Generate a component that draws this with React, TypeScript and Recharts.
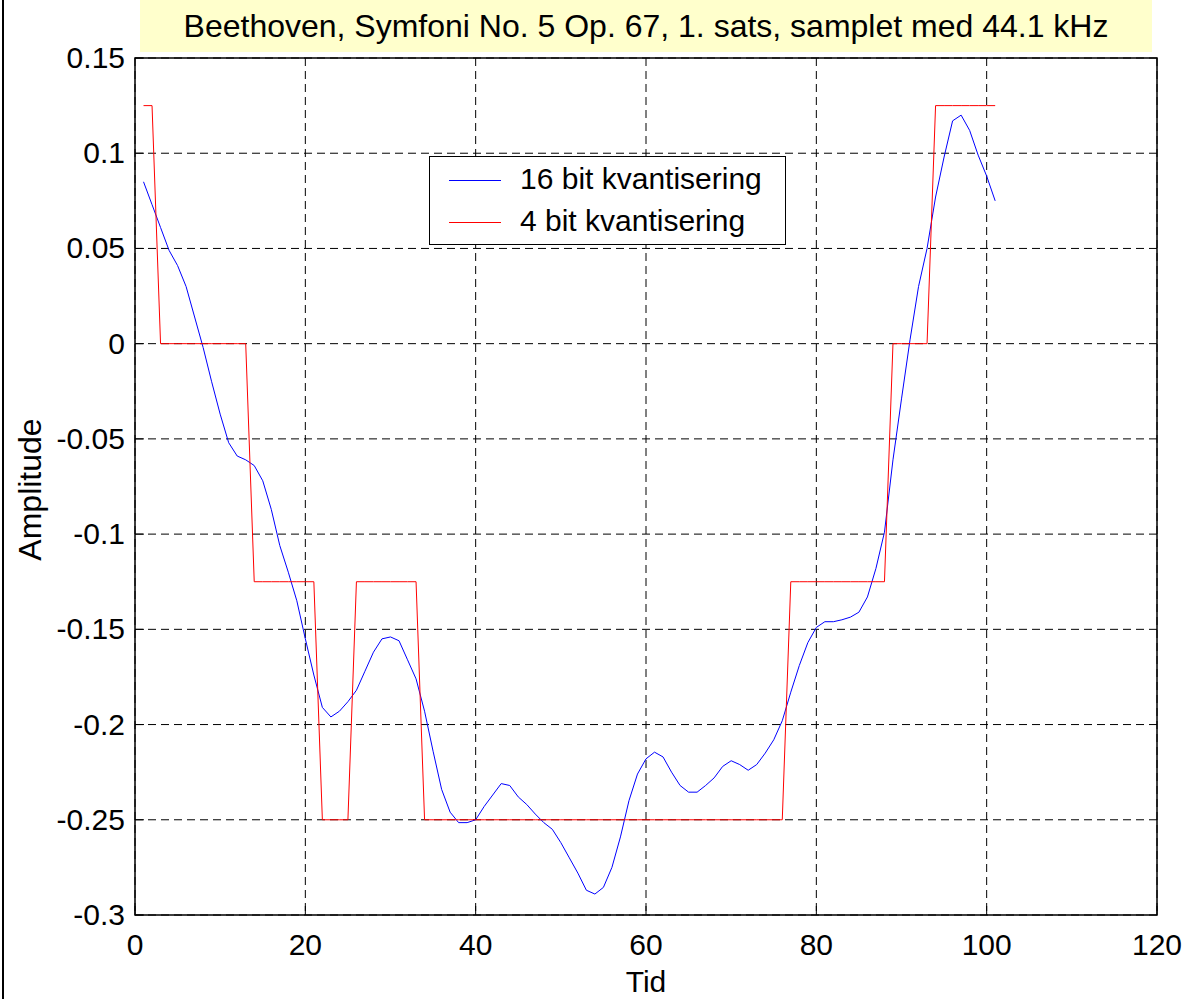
import {
  CartesianGrid,
  Legend,
  Line,
  LineChart,
  ReferenceArea,
  XAxis,
  YAxis,
} from "recharts";

const FONT = '"Liberation Sans", Arial, Helvetica, sans-serif';
const BLUE = "#0000ff";
const RED = "#ff0000";

const TITLE = "Beethoven, Symfoni No. 5 Op. 67, 1. sats, samplet med 44.1 kHz";

const xTicks = [0, 20, 40, 60, 80, 100, 120];
const yTicks = [-0.3, -0.25, -0.2, -0.15, -0.1, -0.05, 0, 0.05, 0.1, 0.15];
const yTickLabels = ["-0.3", "-0.25", "-0.2", "-0.15", "-0.1", "-0.05", "0", "0.05", "0.1", "0.15"];

// 16 bit samples (samples 1..101)
const bit16 = [
  0.085, 0.073, 0.061, 0.049, 0.041, 0.03, 0.014, -0.002, -0.02, -0.037,
  -0.052, -0.059, -0.061, -0.064, -0.072, -0.087, -0.106, -0.12, -0.135, -0.155,
  -0.174, -0.191, -0.196, -0.193, -0.188, -0.182, -0.172, -0.162, -0.155, -0.154,
  -0.156, -0.166, -0.176, -0.193, -0.214, -0.234, -0.246, -0.2515, -0.2515, -0.25,
  -0.243, -0.237, -0.231, -0.232, -0.238, -0.242, -0.247, -0.2515, -0.255, -0.262,
  -0.27, -0.278, -0.287, -0.289, -0.2855, -0.275, -0.259, -0.24, -0.226, -0.218,
  -0.2145, -0.217, -0.225, -0.232, -0.2355, -0.2355, -0.232, -0.228, -0.222, -0.219,
  -0.221, -0.224, -0.221, -0.215, -0.208, -0.198, -0.183, -0.169, -0.157, -0.149,
  -0.146, -0.146, -0.145, -0.1436, -0.141, -0.133, -0.118, -0.099, -0.061, -0.029,
  0.002, 0.03, 0.05, 0.077, 0.098, 0.117, 0.12, 0.112, 0.099, 0.088,
  0.075,
];

// 4 bit samples (steps of 0.125)
const bit4 = [
  0.125, 0.125, 0, 0, 0, 0, 0, 0, 0, 0,
  0, 0, 0, -0.125, -0.125, -0.125, -0.125, -0.125, -0.125, -0.125,
  -0.125, -0.25, -0.25, -0.25, -0.25, -0.125, -0.125, -0.125, -0.125, -0.125,
  -0.125, -0.125, -0.125, -0.25, -0.25, -0.25, -0.25, -0.25, -0.25, -0.25,
  -0.25, -0.25, -0.25, -0.25, -0.25, -0.25, -0.25, -0.25, -0.25, -0.25,
  -0.25, -0.25, -0.25, -0.25, -0.25, -0.25, -0.25, -0.25, -0.25, -0.25,
  -0.25, -0.25, -0.25, -0.25, -0.25, -0.25, -0.25, -0.25, -0.25, -0.25,
  -0.25, -0.25, -0.25, -0.25, -0.25, -0.25, -0.125, -0.125, -0.125, -0.125,
  -0.125, -0.125, -0.125, -0.125, -0.125, -0.125, -0.125, -0.125, 0, 0,
  0, 0, 0, 0.125, 0.125, 0.125, 0.125, 0.125, 0.125, 0.125,
  0.125,
];

const data = bit16.map((v, i) => ({ tid: i + 1, bit16: v, bit4: bit4[i] }));

const TICK = 9; // inward tick length

function LeftTick({ x, y, payload }: any) {
  const ax = x + 10;
  const label = yTickLabels[yTicks.indexOf(payload.value)];
  return (
    <g>
      <line x1={ax} x2={ax + TICK} y1={y} y2={y} stroke="#000" />
      <text x={x} y={y + 10} textAnchor="end" fontSize={30} fontFamily={FONT} fill="#000">
        {label}
      </text>
    </g>
  );
}

function RightTick({ x, y }: any) {
  return <line x1={x} x2={x - TICK} y1={y} y2={y} stroke="#000" />;
}

function BottomTick({ x, y, payload }: any) {
  return (
    <g>
      <line x1={x} x2={x} y1={y} y2={y - TICK} stroke="#000" />
      <text x={x} y={y + 40} textAnchor="middle" fontSize={30} fontFamily={FONT} fill="#000">
        {payload.value}
      </text>
    </g>
  );
}

function TopTick({ x, y }: any) {
  return <line x1={x} x2={x} y1={y} y2={y + TICK} stroke="#000" />;
}

function XTitle({ viewBox }: any) {
  return (
    <text
      x={viewBox.x + viewBox.width / 2}
      y={viewBox.y + viewBox.height + 37}
      textAnchor="middle"
      fontSize={30}
      fontFamily={FONT}
      fill="#000"
    >
      Tid
    </text>
  );
}

function YTitle({ viewBox }: any) {
  const cy = viewBox.y + viewBox.height / 2 + 3;
  return (
    <text
      x={41}
      y={cy}
      transform={`rotate(-90 41 ${cy})`}
      textAnchor="middle"
      fontSize={32}
      fontFamily={FONT}
      fill="#000"
    >
      Amplitude
    </text>
  );
}

function LegendBox({ payload }: any) {
  return (
    <div
      style={{
        position: "relative",
        width: 357,
        height: 89,
        boxSizing: "border-box",
        border: "1.5px solid #000",
        background: "#fff",
        fontFamily: FONT,
      }}
    >
      {(payload ?? []).map((e: any, i: number) => (
        <div
          key={e.value}
          style={{
            position: "absolute",
            left: 18,
            top: 7 + i * 42,
            height: 30,
            display: "flex",
            alignItems: "center",
            lineHeight: "30px",
          }}
        >
          <svg width={72} height={30} style={{ display: "block" }}>
            <line x1={1} x2={53} y1={16.5} y2={16.5} stroke={e.color} strokeWidth={1} />
          </svg>
          <span style={{ fontSize: 30, color: "#000", whiteSpace: "nowrap" }}>{e.value}</span>
        </div>
      ))}
    </div>
  );
}

export default function App() {
  return (
    <div
      style={{
        position: "absolute",
        left: 0,
        top: 0,
        width: 1187,
        height: 999,
        background: "#fff",
        overflow: "hidden",
      }}
    >
      {/* figure frame edge on the left */}
      <div style={{ position: "absolute", left: 2, top: 0, width: 2, height: 999, background: "#000" }} />
      {/* title box */}
      <div
        style={{
          position: "absolute",
          left: 140,
          top: 0,
          width: 1012,
          height: 52,
          background: "#ffffcc",
          fontFamily: FONT,
          fontSize: 32,
          lineHeight: "52px",
          textAlign: "center",
          color: "#000",
          whiteSpace: "nowrap",
        }}
      >
        {TITLE}
      </div>
      <LineChart
        width={1187}
        height={999}
        data={data}
        margin={{ top: 58, right: 30, bottom: 44, left: 75 }}
        style={{ position: "absolute", left: 0, top: 0 }}
      >
        <CartesianGrid stroke="#000" strokeDasharray="8 5" />
        <XAxis
          dataKey="tid"
          type="number"
          domain={[0, 120]}
          ticks={xTicks}
          height={40}
          axisLine={false}
          tickLine={false}
          tickSize={0}
          tickMargin={0}
          tick={<BottomTick />}
          interval={0}
          label={<XTitle />}
        />
        <XAxis
          xAxisId="top"
          orientation="top"
          dataKey="tid"
          type="number"
          domain={[0, 120]}
          ticks={xTicks}
          height={0}
          axisLine={false}
          tickLine={false}
          tickSize={0}
          tickMargin={0}
          tick={<TopTick />}
          interval={0}
        />
        <YAxis
          type="number"
          domain={[-0.3, 0.15]}
          ticks={yTicks}
          width={60}
          axisLine={false}
          tickLine={false}
          tickSize={0}
          tickMargin={10}
          tick={<LeftTick />}
          interval={0}
          allowDataOverflow
          label={<YTitle />}
        />
        <YAxis
          yAxisId="right"
          orientation="right"
          type="number"
          domain={[-0.3, 0.15]}
          ticks={yTicks}
          width={0}
          axisLine={false}
          tickLine={false}
          tickSize={0}
          tickMargin={0}
          tick={<RightTick />}
          interval={0}
          allowDataOverflow
        />
        <ReferenceArea x1={0} x2={120} y1={-0.3} y2={0.15} fill="none" stroke="#000" strokeWidth={1.5} />
        <Line
          dataKey="bit16"
          name="16 bit kvantisering"
          type="linear"
          stroke={BLUE}
          strokeWidth={1}
          dot={false}
          isAnimationActive={false}
        />
        <Line
          dataKey="bit4"
          name="4 bit kvantisering"
          type="linear"
          stroke={RED}
          strokeWidth={1}
          dot={false}
          isAnimationActive={false}
        />
        <Legend
          layout="vertical"
          align="center"
          verticalAlign="middle"
          content={<LegendBox />}
          wrapperStyle={{ left: 429, top: 156, width: 357, height: 89 }}
        />
      </LineChart>
    </div>
  );
}
